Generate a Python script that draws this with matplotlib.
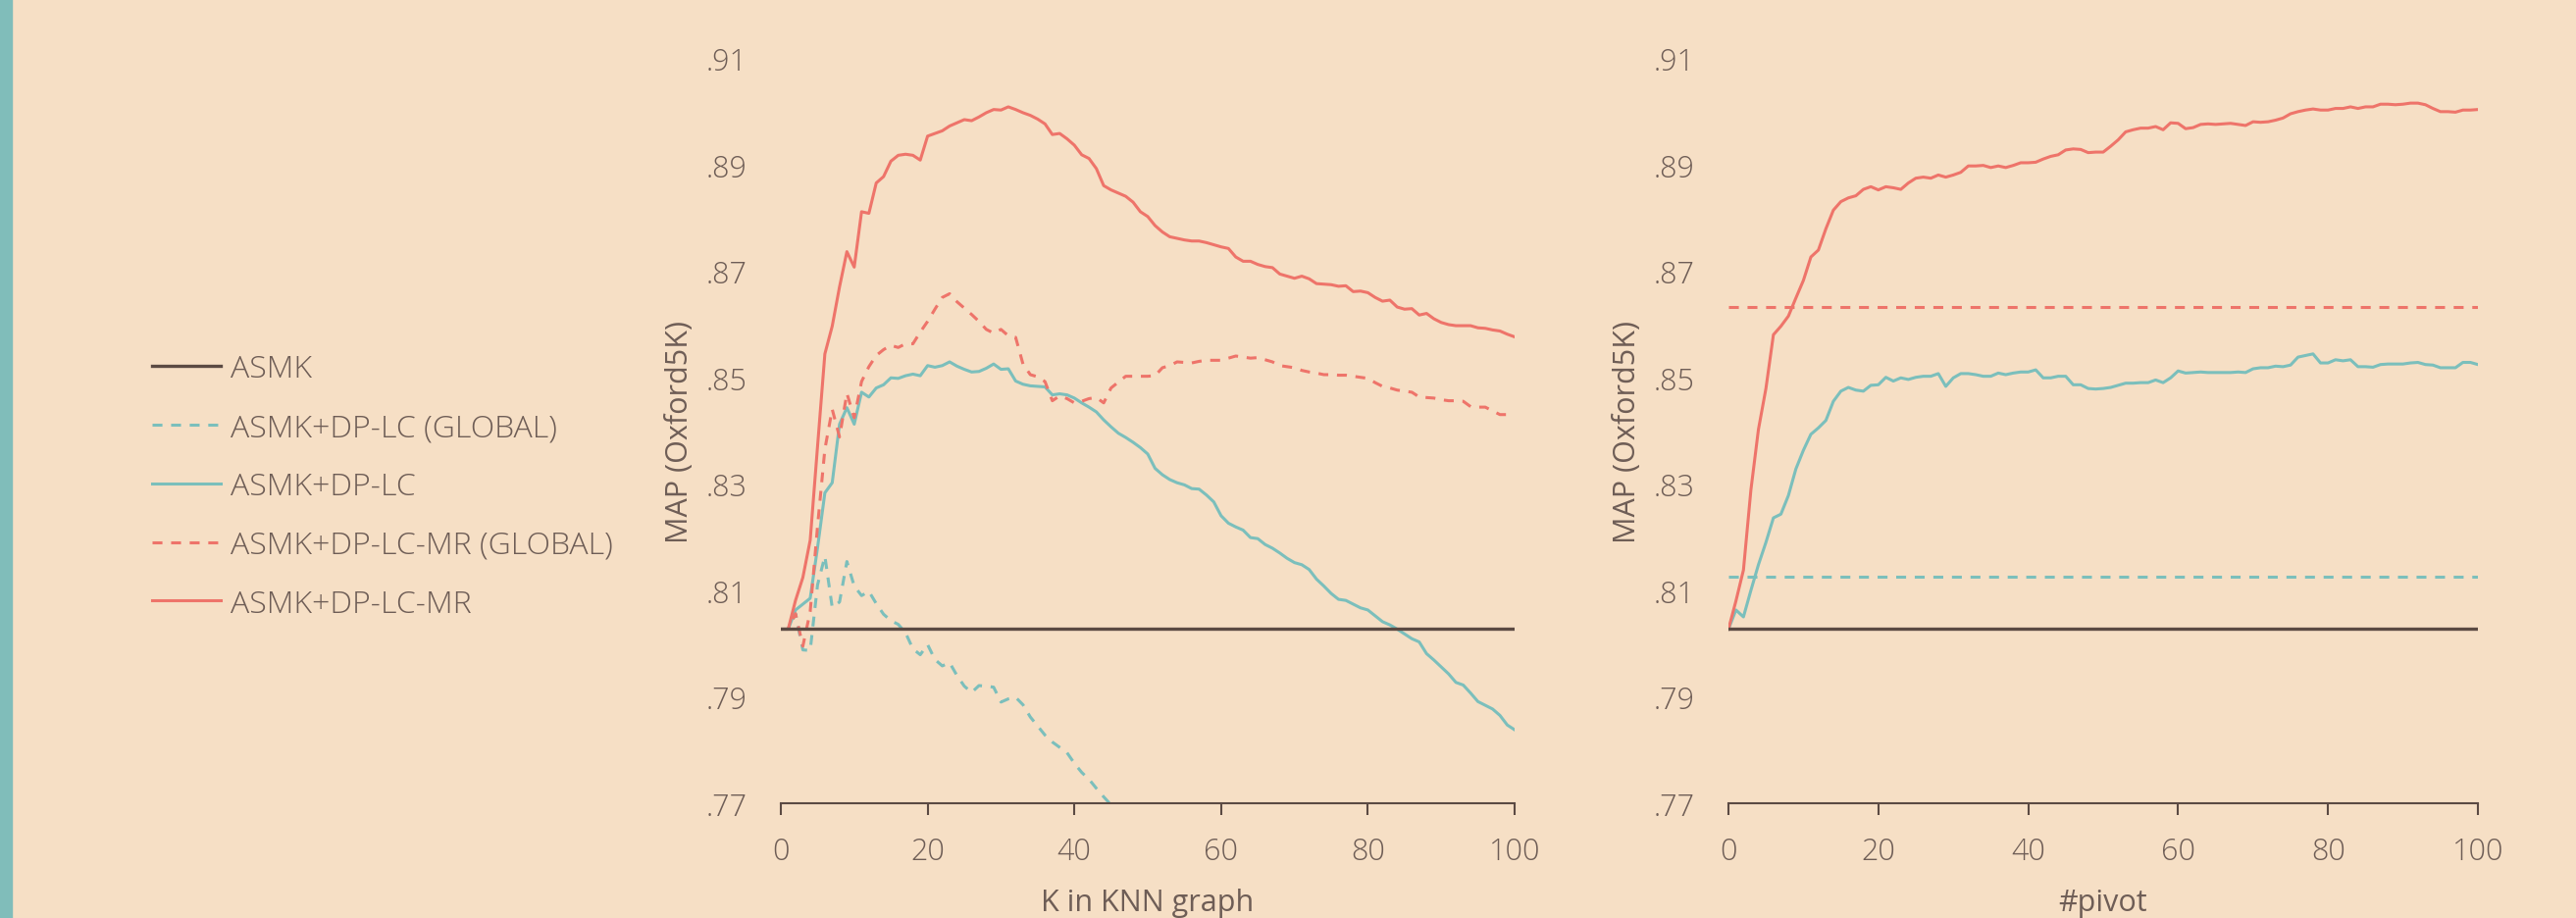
import matplotlib.pyplot as plt
from matplotlib.lines import Line2D
from matplotlib.patches import Rectangle

# K in KNN graph (left panel)
k_vals = list(range(0, 101))
asmk_map = 0.8027

knn_lc_mr = [
    .8027, .8027, .8081, .8124, .8194, .8370, .8544, .8596, .8670, .8736,
    .8707, .8811, .8808, .8865, .8877, .8906, .8917, .8919, .8917, .8908,
    .8953, .8958, .8963, .8972, .8978, .8984, .8982, .8989, .8997, .9003,
    .9002, .9008, .9003, .8997, .8992, .8985, .8976, .8956, .8958, .8948,
    .8936, .8918, .8911, .8892, .8860, .8852, .8846, .8840, .8829, .8811,
    .8802, .8785, .8773, .8764, .8761, .8758, .8756, .8756, .8753, .8749,
    .8745, .8742, .8726, .8718, .8718, .8712, .8708, .8706, .8694, .8690,
    .8686, .8690, .8685, .8676, .8675, .8674, .8671, .8672, .8661, .8662,
    .8659, .8650, .8643, .8645, .8632, .8628, .8629, .8617, .8620, .8610,
    .8603, .8599, .8597, .8597, .8597, .8593, .8592, .8589, .8587, .8581,
    .8576]

knn_lc_mr_global = [
    .8027, .8027, .8056, .7995, .8060, .8220, .8365, .8440, .8388, .8470,
    .8424, .8492, .8520, .8541, .8552, .8560, .8556, .8563, .8563, .8585,
    .8605, .8628, .8650, .8657, .8642, .8630, .8618, .8605, .8590, .8583,
    .8590, .8578, .8575, .8525, .8505, .8501, .8492, .8456, .8465, .8460,
    .8452, .8455, .8460, .8462, .8452, .8480, .8491, .8502, .8502, .8502,
    .8502, .8503, .8518, .8522, .8529, .8528, .8527, .8530, .8532, .8532,
    .8532, .8536, .8540, .8538, .8536, .8537, .8533, .8529, .8522, .8520,
    .8518, .8513, .8510, .8508, .8505, .8505, .8504, .8504, .8502, .8500,
    .8498, .8490, .8483, .8480, .8476, .8474, .8472, .8463, .8462, .8461,
    .8458, .8456, .8456, .8455, .8445, .8444, .8444, .8437, .8430, .8430,
    .8430]

knn_lc = [
    .8027, .8027, .8063, .8074, .8085, .8180, .8283, .8302, .8412, .8443,
    .8412, .8472, .8463, .8480, .8486, .8499, .8498, .8503, .8506, .8503,
    .8522, .8519, .8522, .8529, .8521, .8515, .8510, .8511, .8517, .8525,
    .8515, .8516, .8493, .8487, .8484, .8483, .8482, .8467, .8469, .8467,
    .8461, .8452, .8444, .8435, .8420, .8407, .8395, .8387, .8378, .8368,
    .8356, .8329, .8317, .8308, .8302, .8298, .8291, .8290, .8279, .8266,
    .8240, .8226, .8219, .8213, .8199, .8197, .8186, .8179, .8170, .8160,
    .8152, .8148, .8139, .8121, .8108, .8094, .8083, .8081, .8074, .8067,
    .8063, .8052, .8041, .8035, .8027, .8018, .8009, .8003, .7981, .7969,
    .7956, .7943, .7927, .7922, .7907, .7891, .7884, .7877, .7865, .7847,
    .7838]

k_global = list(range(0, 47))
knn_lc_global = [
    .8027, .8027, .8056, .7988, .7987, .8110, .8164, .8068, .8078, .8154,
    .8108, .8090, .8098, .8075, .8055, .8043, .8036, .8020, .7990, .7979,
    .7998, .7970, .7958, .7964, .7940, .7920, .7908, .7921, .7920, .7918,
    .7890, .7896, .7899, .7885, .7862, .7845, .7828, .7815, .7805, .7795,
    .7775, .7758, .7745, .7728, .7712, .7697, .7680]

# #pivot (right panel)
pivot_vals = list(range(0, 101))
pivot_lc_mr = [
    .8027, .8080, .8138, .8289, .8402, .8479, .8580, .8596, .8615, .8649,
    .8682, .8726, .8739, .8779, .8814, .8830, .8837, .8841, .8853, .8858,
    .8852, .8858, .8856, .8853, .8865, .8874, .8876, .8874, .8880, .8876,
    .8880, .8885, .8897, .8897, .8898, .8894, .8897, .8894, .8898, .8903,
    .8903, .8904, .8910, .8915, .8918, .8927, .8929, .8928, .8922, .8923,
    .8923, .8934, .8946, .8961, .8965, .8968, .8968, .8971, .8965, .8978,
    .8977, .8967, .8969, .8975, .8976, .8975, .8976, .8977, .8975, .8973,
    .8980, .8979, .8980, .8983, .8987, .8995, .8999, .9002, .9004, .9002,
    .9002, .9005, .9005, .9008, .9005, .9008, .9008, .9013, .9013, .9012,
    .9013, .9015, .9015, .9012, .9005, .8999, .8999, .8998, .9002, .9002,
    .9003]

pivot_lc = [
    .8027, .8063, .8050, .8100, .8148, .8190, .8236, .8243, .8278, .8328,
    .8363, .8393, .8405, .8419, .8455, .8474, .8481, .8476, .8474, .8485,
    .8486, .8500, .8493, .8499, .8496, .8500, .8502, .8502, .8507, .8483,
    .8499, .8507, .8507, .8505, .8502, .8502, .8508, .8505, .8508, .8510,
    .8510, .8514, .8499, .8499, .8502, .8502, .8486, .8486, .8479, .8478,
    .8479, .8481, .8485, .8489, .8489, .8490, .8490, .8495, .8490, .8499,
    .8512, .8508, .8509, .8510, .8509, .8509, .8509, .8509, .8510, .8509,
    .8516, .8518, .8518, .8521, .8520, .8523, .8538, .8541, .8544, .8527,
    .8527, .8533, .8531, .8533, .8520, .8520, .8519, .8524, .8525, .8525,
    .8525, .8527, .8528, .8524, .8523, .8518, .8518, .8518, .8528, .8528,
    .8524]

pivot_lc_mr_global = 0.8633
pivot_lc_global = 0.8126

y_ticks = [.77, .79, .81, .83, .85, .87, .89, .91]
x_ticks = [0, 20, 40, 60, 80, 100]

BG = '#F6DFC5'
RED = '#EE746A'
TEAL = '#7BBFBC'
DARK = '#5B4A43'
TXT = '#6E5D56'
DASH = (3.3, 2.9)

plt.rcParams['font.family'] = ['Open Sans', 'DejaVu Sans']
plt.rcParams['font.weight'] = 'light'

fig = plt.figure(figsize=(26.26, 9.37), dpi=100, facecolor=BG)
fig.patches.append(Rectangle((0, 0), 12 / 2626, 1, transform=fig.transFigure,
                             color='#80BDBA', zorder=0))


def style_axes(ax, xlabel):
    ax.set_facecolor(BG)
    ax.set_xlim(0, 100)
    ax.set_ylim(.77, .91)
    for s in ['left', 'right', 'top']:
        ax.spines[s].set_visible(False)
    ax.spines['bottom'].set_color(DARK)
    ax.spines['bottom'].set_linewidth(1.5)
    ax.set_xticks(x_ticks)
    ax.set_yticks(y_ticks)
    ax.set_yticklabels(['.' + f'{v:.2f}'.split('.')[1] for v in y_ticks])
    ax.tick_params(axis='x', length=8.5, width=1.5, color=DARK, pad=15.5,
                   labelsize=22, labelcolor=TXT)
    ax.tick_params(axis='y', length=0, pad=25, labelsize=22, labelcolor=TXT)
    ax.set_xlabel(xlabel, fontsize=22, color=TXT, labelpad=15)
    ax.set_ylabel('MAP (Oxford5K)', fontsize=22, color=TXT, labelpad=8)


ax1 = fig.add_axes([796 / 2626, 1 - 820 / 937, 748 / 2626, 760 / 937])
style_axes(ax1, 'K in KNN graph')
ax1.plot(k_global, knn_lc_global, color=TEAL, lw=2.2, dashes=DASH)
ax1.plot(k_vals, knn_lc, color=TEAL, lw=2.2)
ax1.plot(k_vals, knn_lc_mr_global, color=RED, lw=2.2, dashes=DASH)
ax1.plot(k_vals, knn_lc_mr, color=RED, lw=2.2)
ax1.plot([0, 100], [asmk_map, asmk_map], color=DARK, lw=2.4, zorder=5)

ax2 = fig.add_axes([1762 / 2626, 1 - 820 / 937, 764 / 2626, 760 / 937])
style_axes(ax2, '#pivot')
ax2.plot([0, 100], [pivot_lc_global, pivot_lc_global], color=TEAL, lw=2.2, dashes=DASH)
ax2.plot(pivot_vals, pivot_lc, color=TEAL, lw=2.2)
ax2.plot([0, 100], [pivot_lc_mr_global, pivot_lc_mr_global], color=RED, lw=2.2, dashes=DASH)
ax2.plot(pivot_vals, pivot_lc_mr, color=RED, lw=2.2)
ax2.plot([0, 100], [asmk_map, asmk_map], color=DARK, lw=2.4, zorder=5)

handles = [
    Line2D([], [], color=DARK, lw=2.4),
    Line2D([], [], color=TEAL, lw=2.2, dashes=DASH),
    Line2D([], [], color=TEAL, lw=2.2),
    Line2D([], [], color=RED, lw=2.2, dashes=DASH),
    Line2D([], [], color=RED, lw=2.2),
]
labels = ['ASMK', 'ASMK+DP-LC (GLOBAL)', 'ASMK+DP-LC', 'ASMK+DP-LC-MR (GLOBAL)', 'ASMK+DP-LC-MR']
leg = fig.legend(handles, labels, loc='center left', bbox_to_anchor=(155 / 2626, 1 - 497 / 937),
                 frameon=False, fontsize=23, handlelength=2.2, handletextpad=0.3,
                 labelspacing=0.87, borderpad=0, borderaxespad=0)
for t in leg.get_texts():
    t.set_color(TXT)

fig.savefig('out.png', dpi=100, facecolor=BG)
